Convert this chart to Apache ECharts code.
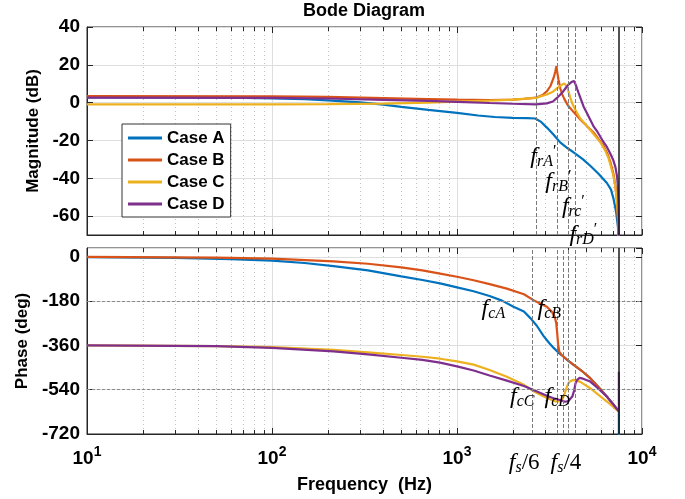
<!DOCTYPE html>
<html>
<head>
<meta charset="utf-8">
<script src="https://cdn.jsdelivr.net/npm/echarts@6/dist/echarts.min.js"></script>
<style>
  html, body { margin: 0; padding: 0; background: #ffffff; }
  #chart { width: 685px; height: 499px; }
</style>
</head>
<body>
<div id="chart"></div>
<script>
// ---- Magnitude (dB) versus frequency (Hz) ----
const magCaseA = [[10,2.8],[30,2.8],[60,2.6],[100,2.3],[150,1.8],[200,1.2],[300,0.1],[400,-1.1],[500,-2.2],[700,-3.8],[1000,-5.4],[1300,-6.8],[1600,-7.6],[2000,-8.1],[2400,-8.2],[2650,-8.4],[2850,-10.2],[3060,-13.2],[3330,-17],[3610,-21],[3950,-24],[4270,-26.3],[4800,-30],[5250,-33.4],[5800,-37.5],[6460,-42.5],[6800,-46],[7020,-51],[7250,-58],[7420,-66],[7500,-90]];
const magCaseB = [[10,3.4],[100,3.3],[200,3.0],[400,2.4],[700,1.9],[1000,1.6],[1500,1.4],[2000,1.6],[2300,2.0],[2670,2.6],[2900,4.0],[3060,6.0],[3200,8.8],[3330,13.2],[3400,16.5],[3445,19.3],[3490,15.5],[3540,12],[3620,7.5],[3700,4.5],[3800,2],[3980,-1.5],[4270,-5],[4650,-9],[5050,-12.5],[5470,-15.8],[6190,-22.8],[6500,-27],[6750,-31.5],[7000,-37.5],[7180,-44],[7320,-52],[7410,-61.7],[7500,-90]];
const magCaseC = [[10,-0.9],[100,-0.9],[200,-0.8],[400,-0.5],[700,0.0],[1000,0.5],[1500,1.1],[2000,1.6],[2670,2.5],[3060,4.3],[3300,5.8],[3470,7.5],[3650,9.2],[3800,10.2],[3870,10.3],[3930,8.5],[4000,6],[4100,2.5],[4200,-0.5],[4360,-3.8],[4650,-8.5],[5000,-12],[5250,-14.5],[5960,-21],[6300,-25],[6600,-29.5],[7015,-38.8],[7200,-45.5],[7330,-52.8],[7440,-62],[7500,-90]];
const magCaseD = [[10,2.6],[100,2.5],[200,2.2],[400,1.5],[700,0.9],[1000,0.4],[1500,-0.2],[2000,-0.6],[2670,-0.9],[3060,-0.4],[3300,0.6],[3470,2.5],[3700,5.2],[3860,7.6],[4000,9.5],[4170,11.0],[4290,11.4],[4380,9.5],[4460,7.3],[4540,5.2],[4830,-2],[5050,-5.8],[5470,-12.5],[5750,-15.5],[6190,-20.8],[6460,-23.4],[6745,-27],[7000,-30.5],[7180,-34],[7330,-39],[7410,-44.4],[7470,-55],[7500,-90]];

// ---- Phase (deg) versus frequency (Hz) ----
const phaseCaseA = [[10,-1],[30,-4],[60,-9],[100,-15],[150,-25],[215,-38],[330,-55],[500,-79],[650,-94],[810,-108],[1000,-124],[1230,-140],[1500,-159],[1750,-178],[2020,-203],[2300,-222],[2500,-250],[2700,-280],[2940,-322],[3150,-350],[3330,-370],[3540,-390],[3690,-400],[4000,-423],[4270,-439],[4700,-462],[5250,-493],[5800,-528],[6460,-568],[7000,-600],[7500,-629],[7500,-800]];
const phaseCaseB = [[10,0],[50,-3],[100,-7],[215,-18],[330,-28],[500,-43],[650,-55],[810,-68],[1000,-81],[1230,-95],[1500,-111],[1860,-129],[2300,-152],[2590,-176],[3060,-203],[3250,-222],[3380,-245],[3440,-270],[3480,-310],[3520,-355],[3570,-385],[3690,-400],[4000,-423],[4270,-439],[4700,-462],[5250,-493],[5800,-528],[6460,-568],[7000,-600],[7500,-629]];
const phaseCaseC = [[10,-360],[50,-363],[100,-367],[215,-378],[330,-388],[500,-399],[650,-406],[810,-414],[1000,-425],[1230,-438],[1500,-460],[1860,-487],[2300,-520],[2590,-546],[3060,-574],[3390,-587],[3600,-588],[3700,-582],[3780,-565],[3880,-540],[3980,-517],[4100,-505],[4270,-500],[4640,-508],[5250,-534],[5800,-560],[6460,-588],[7000,-610],[7500,-629]];
const phaseCaseD = [[10,-360],[50,-363],[100,-370],[215,-384],[330,-396],[500,-410],[650,-419],[810,-430],[1000,-445],[1230,-462],[1500,-482],[1860,-503],[2300,-525],[2590,-541],[3060,-565],[3330,-575],[3600,-582],[3850,-589],[4000,-586],[4100,-580],[4200,-568],[4300,-542],[4370,-515],[4460,-500],[4600,-492],[4800,-495],[5250,-507],[5800,-535],[6460,-568],[7000,-600],[7500,-629],[7500,-467]];

// ---- Marker frequencies (Hz) and reference levels ----
const resonanceFreqs = [2670, 3470, 3980, 4360];          // f_rA', f_rB', f_rc', f_rD'
const phaseMarkFreqs = [2550, 3470, 3740, 3980, 4360];
const nyquistFreq = 7500;
const phaseRefLevels = [-180, -540];

// ---- Axis ticks ----
const magTicks = [-60, -40, -20, 0, 20, 40];
const magRange = [-70, 40];
const phaseRange = [-720, 36];
const phaseStep = 180;
const freqRange = [10, 10000];

// ---- Text annotations: [subscript, frequency, value] ----
const magNotes = [['rA', 2930, -28.8], ['rB', 3530, -41.9], ['rc', 4256, -55], ['rD', 4820, -69.8]];
const phaseNotes = [['cA', 1573, -212], ['cB', 3155, -212], ['cC', 2254, -569], ['cD', 3483, -569]];
const freqNotes = [['6', 2550, -8], ['4', 3740, 3]];   // f_s/6, f_s/4 under the axis

const caseNames = ['Case A', 'Case B', 'Case C', 'Case D'];
const caseColors = ['#0072BD', '#D95319', '#EDB120', '#7E2F8E'];

const SANS = '"Liberation Sans", Arial, Helvetica, sans-serif';
const SERIF = '"Liberation Serif", "Times New Roman", serif';
const AXIS_COLOR = '#262626';

// minor log grid positions (2..9 in each decade)
const minorFreqs = [];
for (let d = 10; d < 10000; d *= 10) for (let k = 2; k <= 9; k++) minorFreqs.push(d * k);

function minorGrid(params, api) {
  const cs = params.coordSys;
  const x = Math.round(api.coord([api.value(0), api.value(1)])[0]) + 0.5;
  return {
    type: 'group',
    children: [
      { type: 'line', shape: { x1: x, y1: cs.y, x2: x, y2: cs.y + cs.height }, style: { stroke: '#c4c4c4', lineWidth: 1, lineDash: [1, 3] } },
      { type: 'line', shape: { x1: x, y1: cs.y + cs.height, x2: x, y2: cs.y + cs.height - 4 }, style: { stroke: AXIS_COLOR, lineWidth: 1 } },
      { type: 'line', shape: { x1: x, y1: cs.y, x2: x, y2: cs.y + 4 }, style: { stroke: AXIS_COLOR, lineWidth: 1 } }
    ]
  };
}

const serifRich = {
  f: { fontFamily: SERIF, fontStyle: 'italic', fontSize: 24, lineHeight: 26, color: '#000', verticalAlign: 'middle' },
  s: { fontFamily: SERIF, fontStyle: 'italic', fontSize: 16, lineHeight: 14, color: '#000', verticalAlign: 'bottom' },
  p: { fontFamily: SERIF, fontSize: 16, lineHeight: 14, color: '#000', verticalAlign: 'top' },
  r: { fontFamily: SERIF, fontSize: 23, lineHeight: 26, color: '#000', verticalAlign: 'middle' }
};

function noteLabel(sub, prime) {
  return '{f|f}{s|' + sub + '}' + (prime ? '{p|\u2032}' : '');
}

const grids = [
  { left: 87, top: 27, width: 555, height: 208, show: true, borderColor: AXIS_COLOR, borderWidth: 1, backgroundColor: '#fff' },
  { left: 87, top: 248, width: 555, height: 186, show: true, borderColor: AXIS_COLOR, borderWidth: 1, backgroundColor: '#fff' }
];

function logAxis(gridIndex, position, withLabels) {
  return {
    type: 'log', logBase: 10, gridIndex: gridIndex, position: position,
    min: freqRange[0], max: freqRange[1],
    axisLine: { show: position === 'bottom', onZero: false, lineStyle: { color: AXIS_COLOR, width: 1 } },
    axisTick: { show: true, inside: true, length: 6, lineStyle: { color: AXIS_COLOR } },
    splitLine: { show: position === 'bottom', lineStyle: { color: '#dedede', width: 1 } },
    axisLabel: withLabels ? {
      show: true, margin: 11,
      formatter: function (v) { return '{b|10}{e|' + Math.round(Math.log10(v)) + '}'; },
      rich: {
        b: { fontFamily: SANS, fontWeight: 'bold', fontSize: 19, color: '#000', lineHeight: 23, verticalAlign: 'bottom' },
        e: { fontFamily: SANS, fontWeight: 'bold', fontSize: 14, color: '#000', lineHeight: 12, verticalAlign: 'top' }
      }
    } : { show: false },
    name: withLabels ? 'Frequency  (Hz)' : '',
    nameLocation: 'middle', nameGap: 42,
    nameTextStyle: { fontFamily: SANS, fontWeight: 'bold', fontSize: 18, color: '#000' }
  };
}

const tickLabelStyle = { fontFamily: SANS, fontWeight: 'bold', fontSize: 19, color: '#000' };

const option = {
  animation: false,
  backgroundColor: '#ffffff',
  title: {
    text: 'Bode Diagram', left: 364, top: 2, padding: 0, textAlign: 'center',
    textStyle: { fontFamily: SANS, fontWeight: 'bold', fontSize: 18, color: '#000' }
  },
  legend: {
    data: caseNames, orient: 'vertical', left: 122, top: 124,
    icon: 'rect', itemWidth: 34, itemHeight: 3, itemGap: 4,
    padding: [5, 6, 4, 6], borderColor: '#333', borderWidth: 1, backgroundColor: '#fff',
    selectedMode: false,
    textStyle: { fontFamily: SANS, fontWeight: 'bold', fontSize: 17, color: '#000', lineHeight: 18 }
  },
  grid: grids,
  xAxis: [
    logAxis(0, 'bottom', false),
    logAxis(1, 'bottom', true),
    logAxis(0, 'top', false),
    logAxis(1, 'top', false)
  ],
  yAxis: [
    {
      type: 'value', gridIndex: 0, position: 'left', min: magRange[0], max: magRange[1],
      axisLine: { show: true, onZero: false, lineStyle: { color: AXIS_COLOR } },
      axisTick: { show: true, inside: true, length: 6, customValues: magTicks, lineStyle: { color: AXIS_COLOR } },
      axisLabel: Object.assign({ margin: 7, customValues: magTicks }, tickLabelStyle),
      splitLine: { show: true, lineStyle: { color: '#dedede', width: 1 } },
      name: 'Magnitude (dB)', nameLocation: 'middle', nameGap: 44, nameRotate: 90,
      nameTextStyle: { fontFamily: SANS, fontWeight: 'bold', fontSize: 17, color: '#000' }
    },
    {
      type: 'value', gridIndex: 1, position: 'left', min: phaseRange[0], max: phaseRange[1], interval: phaseStep,
      axisLine: { show: true, onZero: false, lineStyle: { color: AXIS_COLOR } },
      axisTick: { show: true, inside: true, length: 6, lineStyle: { color: AXIS_COLOR } },
      axisLabel: Object.assign({ margin: 7, showMaxLabel: false }, tickLabelStyle),
      splitLine: { show: true, lineStyle: { color: '#dedede', width: 1 } },
      name: 'Phase (deg)', nameLocation: 'middle', nameGap: 44, nameRotate: 90,
      nameTextStyle: { fontFamily: SANS, fontWeight: 'bold', fontSize: 17, color: '#000' }
    },
    {
      type: 'value', gridIndex: 0, position: 'right', min: magRange[0], max: magRange[1],
      axisLine: { show: false, onZero: false },
      axisTick: { show: true, inside: true, length: 6, customValues: magTicks, lineStyle: { color: AXIS_COLOR } },
      axisLabel: { show: false }, splitLine: { show: false }
    },
    {
      type: 'value', gridIndex: 1, position: 'right', min: phaseRange[0], max: phaseRange[1], interval: phaseStep,
      axisLine: { show: false, onZero: false },
      axisTick: { show: true, inside: true, length: 6, lineStyle: { color: AXIS_COLOR } },
      axisLabel: { show: false }, splitLine: { show: false }
    }
  ],
  series: []
};

// minor log gridlines in both panels
[0, 1].forEach(function (g) {
  option.series.push({
    type: 'custom', xAxisIndex: g, yAxisIndex: g, silent: true, z: 1,
    data: minorFreqs.map(function (f) { return [f, 0]; }),
    renderItem: minorGrid
  });
});

const magData = [magCaseA, magCaseB, magCaseC, magCaseD];
const phaseData = [phaseCaseA, phaseCaseB, phaseCaseC, phaseCaseD];

const dashed = { color: '#7a7a7a', width: 1, type: [4, 2] };
const solidDark = { color: '#1a1a1a', width: 1.5, type: 'solid' };

caseNames.forEach(function (name, i) {
  option.series.push({
    name: name, type: 'line', xAxisIndex: 0, yAxisIndex: 0,
    data: magData[i], symbol: 'none', showSymbol: false, clip: true, z: 3,
    lineStyle: { color: caseColors[i], width: 2.2 }, itemStyle: { color: caseColors[i] }
  });
});
caseNames.forEach(function (name, i) {
  option.series.push({
    name: name, type: 'line', xAxisIndex: 1, yAxisIndex: 1,
    data: phaseData[i], symbol: 'none', showSymbol: false, clip: true, z: 3,
    lineStyle: { color: caseColors[i], width: 2.2 }, itemStyle: { color: caseColors[i] }
  });
});

// reference lines and annotations, magnitude panel
option.series.push({
  name: 'magMarks', type: 'line', xAxisIndex: 0, yAxisIndex: 0, data: [], z: 2,
  markLine: {
    silent: true, symbol: ['none', 'none'], label: { show: false }, animation: false,
    data: resonanceFreqs.map(function (f) { return { xAxis: f, lineStyle: dashed }; })
      .concat([{ xAxis: nyquistFreq, lineStyle: solidDark }])
  },
  markPoint: {
    silent: true, symbol: 'circle', symbolSize: 0, animation: false,
    data: magNotes.map(function (n) {
      return { coord: [n[1], n[2]], label: { show: true, position: 'inside', formatter: noteLabel(n[0], true), rich: serifRich } };
    })
  }
});

// reference lines and annotations, phase panel
option.series.push({
  name: 'phaseMarks', type: 'line', xAxisIndex: 1, yAxisIndex: 1, data: [], z: 2,
  markLine: {
    silent: true, symbol: ['none', 'none'], label: { show: false }, animation: false,
    data: phaseMarkFreqs.map(function (f) { return { xAxis: f, lineStyle: dashed }; })
      .concat(phaseRefLevels.map(function (v) { return { yAxis: v, lineStyle: { color: '#8a8a8a', width: 1, type: [3, 2] } }; }))
      .concat([{ xAxis: nyquistFreq, lineStyle: solidDark }])
  },
  markPoint: {
    silent: true, symbol: 'circle', symbolSize: 0, animation: false,
    data: phaseNotes.map(function (n) {
      return { coord: [n[1], n[2]], label: { show: true, position: 'inside', formatter: noteLabel(n[0], false), rich: serifRich } };
    }).concat(freqNotes.map(function (n) {
      return { coord: [n[1], phaseRange[0]], label: { show: true, position: 'inside', offset: [n[2], 29], formatter: '{f|f}{s|s}{r|/' + n[0] + '}', rich: serifRich } };
    }))
  }
});

const chart = echarts.init(document.getElementById('chart'), null, { renderer: 'canvas' });
chart.setOption(option);
</script>
</body>
</html>
